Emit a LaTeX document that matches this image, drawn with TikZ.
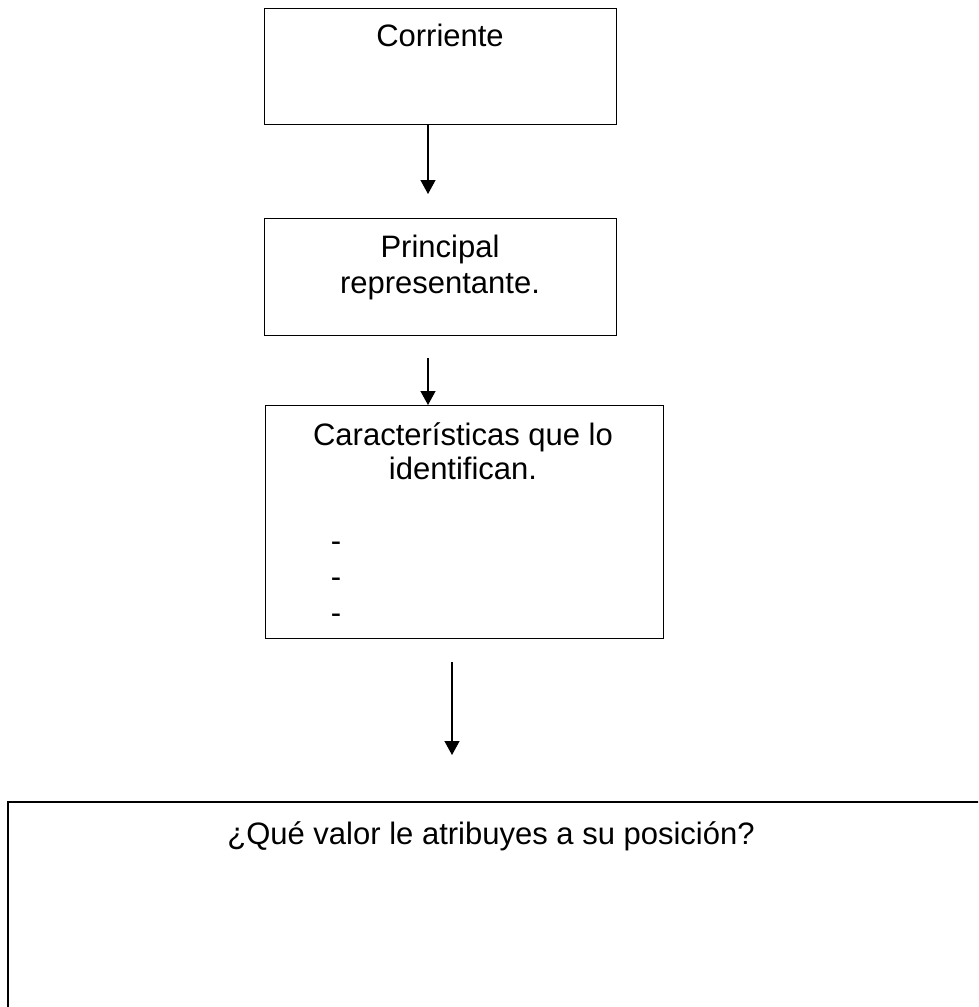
\documentclass[tikz,border=0pt]{standalone}
\usepackage{fontspec}
\setmainfont{Liberation Sans}
\usetikzlibrary{arrows.meta}
\begin{document}
\begin{tikzpicture}[x=1pt,y=-1pt,
  box/.style={draw,line width=1.3pt,inner sep=0pt,anchor=north west},
  txt/.style={anchor=base,inner sep=0pt,font=\fontsize{31}{36}\selectfont},
  arr/.style={line width=1.3pt,-{Triangle[width=15pt,length=14pt]}}]
\clip (0,0) rectangle (978,1007);
% boxes
\node[box,minimum width=352pt,minimum height=116pt] (b1) at (264,8) {};
\node[box,minimum width=352pt,minimum height=117pt] (b2) at (264,218) {};
\node[box,minimum width=398pt,minimum height=233pt] (b3) at (265,405) {};
\node[box,line width=1.7pt,minimum width=1010pt,minimum height=300pt] (b4) at (7,801) {};
% texts
\node[txt] (t1) at (440,46) {Corriente};
\node[txt] (t2a) at (440,257) {Principal};
\node[txt] (t2b) at (440,293) {representante.};
\node[txt] (t3a) at (463,445) {Características que lo};
\node[txt] (t3b) at (463,479) {identifican.};
\node[txt] (d1) at (336,551) {-};
\node[txt] (d2) at (336,587) {-};
\node[txt] (d3) at (336,623) {-};
\node[txt] (t4) at (491,844) {¿Qué valor le atribuyes a su posición?};
% arrows
\coordinate (a1e) at (428,194);
\coordinate (a2s) at (428,358);
\coordinate (a3s) at (452,662);
\coordinate (a3e) at (452,755);
\draw[arr] (b1.south -| a1e) -- (a1e);
\draw[arr] (a2s) -- (b3.north -| a2s);
\draw[arr] (a3s) -- (a3e);
\end{tikzpicture}
\end{document}
